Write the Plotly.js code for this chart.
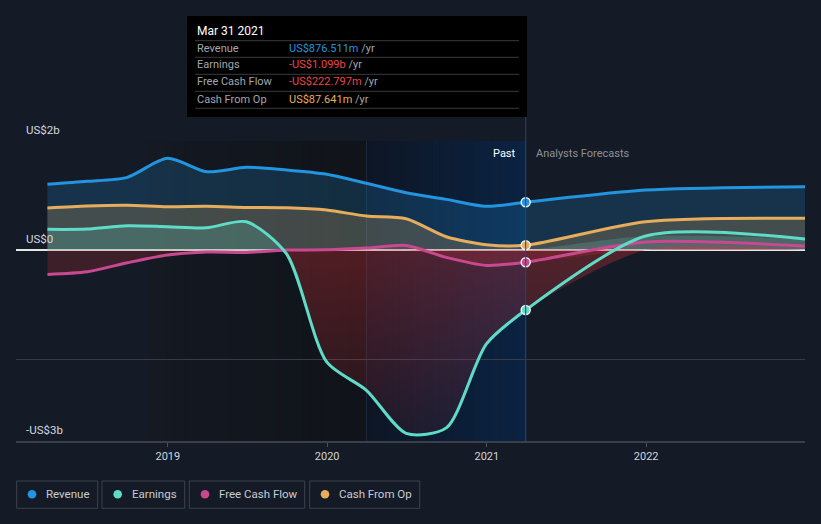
<!DOCTYPE html>
<html>
<head>
<meta charset="utf-8">
<script src="https://cdn.plot.ly/plotly-3.0.1.min.js"></script>
<style>
html,body{margin:0;padding:0;background:#151b26;}
#chart{width:821px;height:524px;}
</style>
</head>
<body>
<div id="chart"></div>
<script>
// ---- data (US$ billions) ----
const dates = ['2018-03-31','2018-06-30','2018-09-30','2018-12-31','2019-03-31','2019-06-30','2019-09-30','2019-12-31','2020-03-31','2020-06-30','2020-09-30','2020-12-31','2021-03-31','2021-12-31','2022-12-31'];
const revenue = [1.205, 1.26, 1.334, 1.683, 1.437, 1.517, 1.468, 1.389, 1.224, 1.051, 0.930, 0.802, 0.877, 1.10, 1.16];
const earnings = [0.38, 0.385, 0.446, 0.428, 0.409, 0.519, -0.07, -2.05, -2.57, -3.36, -3.26, -1.72, -1.099, 0.257, 0.202];
const freeCashFlow = [-0.446, -0.398, -0.233, -0.092, -0.037, -0.042, 0.0, 0.006, 0.037, 0.086, -0.134, -0.281, -0.223, 0.147, 0.073];
const cashFromOp = [0.771, 0.807, 0.820, 0.794, 0.802, 0.783, 0.776, 0.734, 0.624, 0.574, 0.244, 0.097, 0.0876, 0.519, 0.582];
const seriesNames = ['Revenue','Earnings','Free Cash Flow','Cash From Op'];
const seriesColors = ['#2394df','#5fdcc8','#c8498f','#e6ae5c'];
const xTickVals = ['2019-01-01','2020-01-01','2021-01-01','2022-01-01'];
const xTickText = ['2019','2020','2021','2022'];
const yLabelVals = [2, 0, -3.5];
const yLabelText = ['US$2b','US$0','-US$3b'];
const highlightIndex = 12;
const tooltipDate = 'Mar 31 2021';
const tooltipValues = ['US$876.511m','-US$1.099b','-US$222.797m','US$87.641m'];
const tooltipValueColors = ['#2394df','#ef4444','#ef4444','#e6ae5c'];

// ---- layout helpers ----
const W = 821, H = 524, L = 16, R = 805, T = 141, B = 441;
const X = px => (px - L) / (R - L);
const Y = py => (B - py) / (B - T);
const r0 = '2018-01-18', r1 = '2022-12-31';
const FONT = 'Roboto, "Open Sans", sans-serif';

function dstr(ms){ return new Date(ms).toISOString().replace('T',' ').replace('Z',''); }
function lerp(a,b,t){ return a + (b-a)*t; }
function strips(d0, d1, c0, c1, n){
  const a = Date.parse(d0), b = Date.parse(d1), out = [];
  for (let i=0;i<n;i++){
    const t = n===1?0:i/(n-1);
    const c = c0.map((v,k)=>Math.round(lerp(v,c1[k],t)));
    out.push({type:'rect', xref:'x', yref:'paper', layer:'below',
      x0:dstr(a+(b-a)*i/n), x1:dstr(a+(b-a)*(i+1)/n + 3600e3*12), y0:0, y1:1,
      fillcolor:`rgb(${c[0]},${c[1]},${c[2]})`, line:{width:0}});
  }
  return out;
}

const spl = {shape:'spline', smoothing:0.75};
const traces = [];
// fills
traces.push({x:dates, y:revenue, type:'scatter', mode:'lines', fill:'tozeroy',
  fillcolor:'rgba(35,148,223,0.2)', line:Object.assign({color:seriesColors[0], width:0}, spl), hoverinfo:'skip', showlegend:false});
traces.push({x:dates, y:cashFromOp, type:'scatter', mode:'lines', fill:'tozeroy',
  fillcolor:'rgba(230,174,92,0.22)', line:Object.assign({color:seriesColors[3], width:0}, spl), hoverinfo:'skip', showlegend:false});
traces.push({x:dates, y:earnings.map(v=>Math.max(v,0)), type:'scatter', mode:'lines', fill:'tozeroy',
  fillcolor:'rgba(95,220,200,0.2)', line:Object.assign({color:seriesColors[1], width:0}, spl), hoverinfo:'skip', showlegend:false});
traces.push({x:dates, y:earnings.map(v=>Math.min(v,0)), type:'scatter', mode:'lines', fill:'tozeroy',
  fillcolor:'rgba(210,50,55,0.22)',
  fillgradient:{type:'vertical', start:0, stop:-3.4, colorscale:[[0,'rgba(215,50,55,0.32)'],[1,'rgba(215,50,55,0.08)']]},
  line:Object.assign({color:seriesColors[1], width:0}, spl), hoverinfo:'skip', showlegend:false});
traces.push({x:dates, y:freeCashFlow.map(v=>Math.max(v,0)), type:'scatter', mode:'lines', fill:'tozeroy',
  fillcolor:'rgba(200,73,143,0.15)', line:Object.assign({color:seriesColors[2], width:0}, spl), hoverinfo:'skip', showlegend:false});
traces.push({x:dates, y:freeCashFlow.map(v=>Math.min(v,0)), type:'scatter', mode:'lines', fill:'tozeroy',
  fillcolor:'rgba(200,45,55,0.22)', line:Object.assign({color:seriesColors[2], width:0}, spl), hoverinfo:'skip', showlegend:false});
// lines
const lineData = [revenue, earnings, freeCashFlow, cashFromOp];
[0,3,2,1].forEach(i=>{
  traces.push({x:dates, y:lineData[i], type:'scatter', mode:'lines', name:seriesNames[i],
    line:Object.assign({color:seriesColors[i], width:3}, spl), hoverinfo:'skip', showlegend:false});
});
// highlight markers
[0,3,2,1].forEach(i=>{
  traces.push({x:[dates[highlightIndex]], y:[lineData[i][highlightIndex]], type:'scatter', mode:'markers',
    marker:{size:9, color:seriesColors[i], line:{color:'#eef1f5', width:1.5}}, hoverinfo:'skip', showlegend:false});
});

// ---- shapes ----
let shapes = [];
shapes = shapes.concat(strips('2018-11-16','2020-03-31',[20,25,34],[16,19,25],24));
shapes = shapes.concat(strips('2020-03-31', dates[highlightIndex],[14,22,37],[10,35,66],24));
const hx = X(L + (Date.parse(dates[highlightIndex]) - Date.parse(r0)) / (Date.parse(r1) - Date.parse(r0)) * (R - L));
shapes.push({type:'line', xref:'x', yref:'paper', x0:'2020-03-31', x1:'2020-03-31', y0:0, y1:1, layer:'below', line:{color:'#1f2a3a', width:1}});
shapes.push({type:'line', xref:'paper', yref:'paper', x0:hx, x1:hx, y0:0, y1:Y(116), line:{color:'#1d4a7c', width:1}});
// tooltip box
shapes.push({type:'rect', xref:'paper', yref:'paper', x0:X(187), x1:X(527), y0:Y(117), y1:Y(16), fillcolor:'#000000', line:{width:0}});
[40.7, 57.3, 74.3, 91.3, 108.3].forEach(py=>{
  shapes.push({type:'line', xref:'paper', yref:'paper', x0:X(195), x1:X(519), y0:Y(py), y1:Y(py), line:{color:'#3b3b3b', width:1}});
});
// legend boxes
const legBoxes = [[16.7,97.7],[102,184.7],[189.3,304.7],[309.7,419.7]];
const legDots = [32,117.7,205,325];
const legText = [44.3,130,217,337];
legBoxes.forEach(b=>{
  shapes.push({type:'rect', xref:'paper', yref:'paper', x0:X(b[0]), x1:X(b[1]), y0:Y(508.3), y1:Y(481), line:{color:'#3d424d', width:1}, fillcolor:'rgba(0,0,0,0)'});
});
legDots.forEach((d,i)=>{
  shapes.push({type:'circle', xref:'paper', yref:'paper', xsizemode:'pixel', ysizemode:'pixel', xanchor:X(d), yanchor:Y(494.3),
    x0:-4.3, x1:4.3, y0:-4.3, y1:4.3, fillcolor:seriesColors[i], line:{width:0}});
});

// ---- annotations ----
const ann = [];
yLabelVals.forEach((v,i)=>{
  ann.push({xref:'paper', yref:'y', x:X(24), y:v, text:yLabelText[i], showarrow:false, xanchor:'left', yanchor:'bottom', yshift:2,
    font:{family:FONT, size:11.5, color:'#d4d8de'}});
});
ann.push({xref:'paper', yref:'paper', x:X(518), y:Y(153.3), text:'Past', showarrow:false, xanchor:'right', yanchor:'middle', font:{family:FONT, size:11, color:'#ffffff'}});
ann.push({xref:'paper', yref:'paper', x:X(534), y:Y(153.3), text:'Analysts Forecasts', showarrow:false, xanchor:'left', yanchor:'middle', font:{family:FONT, size:11, color:'#8b9099'}});
ann.push({xref:'paper', yref:'paper', x:X(195), y:Y(31), text:tooltipDate, showarrow:false, xanchor:'left', yanchor:'middle', font:{family:FONT, size:12, color:'#ffffff'}});
const rowY = [48.3, 65, 82, 99.3];
seriesNames.forEach((n,i)=>{
  ann.push({xref:'paper', yref:'paper', x:X(195), y:Y(rowY[i]), text:n, showarrow:false, xanchor:'left', yanchor:'middle', font:{family:FONT, size:11, color:'#a2a6ad'}});
  ann.push({xref:'paper', yref:'paper', x:X(287), y:Y(rowY[i]), text:`<span style="color:${tooltipValueColors[i]}">${tooltipValues[i]}</span> /yr`, showarrow:false, xanchor:'left', yanchor:'middle', font:{family:FONT, size:11, color:'#a2a6ad'}});
});
seriesNames.forEach((n,i)=>{
  ann.push({xref:'paper', yref:'paper', x:X(legText[i]), y:Y(494.3), text:n, showarrow:false, xanchor:'left', yanchor:'middle', font:{family:FONT, size:11.5, color:'#c8ccd3'}});
});

const layout = {
  width:W, height:H,
  margin:{l:L, r:W-R, t:T, b:H-B, pad:0},
  paper_bgcolor:'#151b26', plot_bgcolor:'#151b26',
  showlegend:false,
  font:{family:FONT, color:'#c8ccd3'},
  xaxis:{type:'date', range:[r0, r1], tickvals:xTickVals, ticktext:xTickText, showgrid:false, zeroline:false,
    ticks:'outside', ticklen:4, tickcolor:'#4a505c', showline:true, linecolor:'#3a3f4a', linewidth:1.5,
    tickfont:{family:FONT, size:11, color:'#d0d4da'}, fixedrange:true},
  yaxis:{range:[-3.5, 2], tickvals:[2,-2], showticklabels:false, showgrid:true, gridcolor:'#363b46', gridwidth:1,
    zeroline:true, zerolinecolor:'#e6e6e6', zerolinewidth:1.5, fixedrange:true},
  shapes:shapes, annotations:ann,
  hovermode:false
};
Plotly.newPlot('chart', traces, layout, {displayModeBar:false, staticPlot:true});
</script>
</body>
</html>
